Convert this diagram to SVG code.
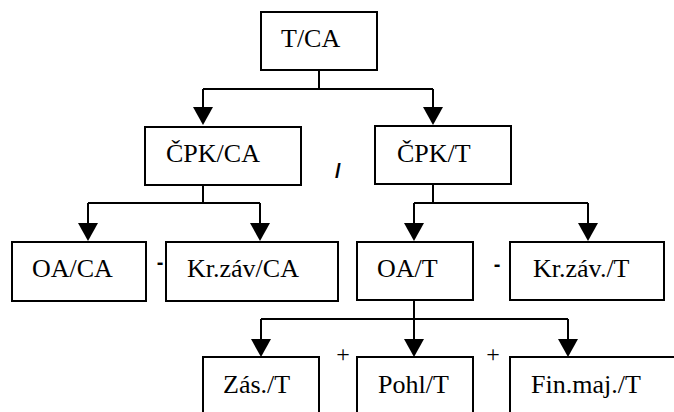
<svg xmlns="http://www.w3.org/2000/svg" width="674" height="412" viewBox="0 0 674 412">
  <style>
    .box { fill: #ffffff; stroke: #000000; stroke-width: 2; }
    .wire { fill: none; stroke: #000000; stroke-width: 2; }
    .head { fill: #000000; }
    .lbl { font-family: 'Liberation Serif', serif; font-size: 26px; fill: #000000; }
    .op { font-family: 'Liberation Sans', sans-serif; font-weight: bold; fill: #000000; text-anchor: middle; }
    .plus { font-family: 'Liberation Serif', serif; font-size: 24px; fill: #000000; text-anchor: middle; }
  </style>
  <rect width="674" height="412" fill="#ffffff"/>

  <!-- connectors: trunk lines, branch bars and arrowheads -->
  <g id="connectors">
    <g class="wire">
      <path d="M319,70 V89"/>
      <path d="M203,89 H433"/>
      <path d="M203,89 V108"/>
      <path d="M433,89 V108"/>
      <path d="M203,185 V203"/>
      <path d="M88,203 H260"/>
      <path d="M88,203 V223"/>
      <path d="M260,203 V223"/>
      <path d="M433,184 V203"/>
      <path d="M414,203 H588"/>
      <path d="M414,203 V223"/>
      <path d="M588,203 V223"/>
      <path d="M414,300 V319"/>
      <path d="M261,319 H568"/>
      <path d="M261,319 V339"/>
      <path d="M414,319 V339"/>
      <path d="M568,319 V339"/>
    </g>
    <g class="head">
      <path d="M193,107 H213 L203,125 Z"/>
      <path d="M423,107 H443 L433,125 Z"/>
      <path d="M78,223 H98 L88,241 Z"/>
      <path d="M250,223 H270 L260,241 Z"/>
      <path d="M404,223 H424 L414,241 Z"/>
      <path d="M578,223 H598 L588,241 Z"/>
      <path d="M251,339 H271 L261,357 Z"/>
      <path d="M404,339 H424 L414,357 Z"/>
      <path d="M558,339 H578 L568,357 Z"/>
    </g>
  </g>

  <g id="n-t-ca">
    <rect class="box" x="261" y="12" width="116" height="58"/>
    <text class="lbl" x="281" y="47">T/CA</text>
  </g>
  <g id="n-cpk-ca">
    <rect class="box" x="145" y="127" width="156" height="58"/>
    <text class="lbl" x="166" y="162">ČPK/CA</text>
  </g>
  <g id="n-cpk-t">
    <rect class="box" x="375" y="126" width="136" height="58"/>
    <text class="lbl" x="397" y="162">ČPK/T</text>
  </g>
  <g id="n-oa-ca">
    <rect class="box" x="12" y="242" width="134" height="59"/>
    <text class="lbl" x="32" y="277">OA/CA</text>
  </g>
  <g id="n-krzav-ca">
    <rect class="box" x="166" y="242" width="172" height="59"/>
    <text class="lbl" x="187" y="277">Kr.záv/CA</text>
  </g>
  <g id="n-oa-t">
    <rect class="box" x="357" y="242" width="116" height="58"/>
    <text class="lbl" x="377" y="277">OA/T</text>
  </g>
  <g id="n-krzav-t">
    <rect class="box" x="510" y="242" width="154" height="58"/>
    <text class="lbl" x="533" y="277">Kr.záv./T</text>
  </g>
  <g id="n-zas-t">
    <rect class="box" x="203" y="357" width="116" height="70"/>
    <text class="lbl" x="223" y="393">Zás./T</text>
  </g>
  <g id="n-pohl-t">
    <rect class="box" x="357" y="357" width="116" height="70"/>
    <text class="lbl" x="378" y="393">Pohl/T</text>
  </g>
  <g id="n-finmaj-t">
    <rect class="box" x="510" y="357" width="180" height="70"/>
    <text class="lbl" x="531" y="393">Fin.maj./T</text>
  </g>

  <!-- operators between boxes -->
  <g id="operators">
    <text class="op" x="338" y="178" font-size="21">/</text>
    <text class="op" x="160" y="269" font-size="20">-</text>
    <text class="op" x="497" y="271" font-size="20">-</text>
    <text class="plus" x="343" y="362">+</text>
    <text class="plus" x="493" y="362">+</text>
  </g>
</svg>
